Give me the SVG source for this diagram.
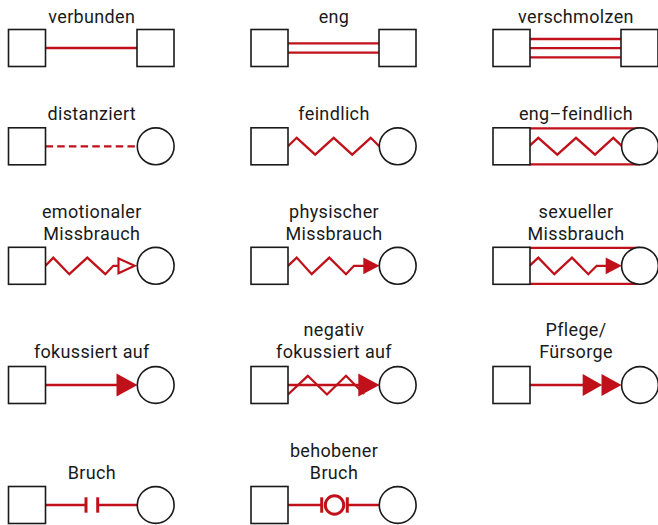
<svg xmlns="http://www.w3.org/2000/svg" width="658" height="525" viewBox="0 0 658 525">
<style>
.nd{fill:#fff;stroke:#1a1a1a;stroke-width:1.6}
.ln{fill:none;stroke:#c0111a;stroke-width:2.3}
.zz{fill:none;stroke:#c0111a;stroke-width:2.3;stroke-linejoin:miter}
.ah{fill:#c0111a;stroke:none}
.ao{fill:#fff;stroke:#c0111a;stroke-width:2.2}
.br{stroke:#c0111a;stroke-width:3}
.lb{font-family:Roboto,"Liberation Sans",sans-serif;font-size:18px;letter-spacing:0.35px;fill:#1a1a1a;text-anchor:middle}
</style>
<rect width="658" height="525" fill="#fff"/>

<g id="connectors">
  <!-- verbunden -->
  <line class="ln" x1="45.5" y1="48" x2="137" y2="48"/>
  <!-- eng -->
  <line class="ln" x1="288" y1="43.3" x2="379" y2="43.3"/>
  <line class="ln" x1="288" y1="52.7" x2="379" y2="52.7"/>
  <!-- verschmolzen -->
  <line class="ln" x1="530" y1="39" x2="621" y2="39"/>
  <line class="ln" x1="530" y1="48.2" x2="621" y2="48.2"/>
  <line class="ln" x1="530" y1="57.4" x2="621" y2="57.4"/>
  <!-- distanziert -->
  <line class="ln" x1="45.5" y1="146.3" x2="137" y2="146.3" stroke-dasharray="7.5 4.2"/>
  <!-- feindlich -->
  <polyline class="zz" points="288,146.3 296.7,137.8 315.2,154.6 333.7,137.8 352.2,154.6 370.7,137.8 379.3,146.3"/>
  <!-- eng-feindlich -->
  <line class="ln" x1="529" y1="128.4" x2="640" y2="128.4"/>
  <line class="ln" x1="529" y1="164.3" x2="640" y2="164.3"/>
  <polyline class="zz" points="529.5,145.8 538.3,137.8 557.3,154.6 576,137.8 595,154.6 613.3,137.8 621.7,145.8"/>
  <!-- emotionaler Missbrauch -->
  <polyline class="zz" points="45.5,265.8 53.3,257.6 69.3,274.2 87.3,257.6 105.3,274.2 113.3,265.8 118.5,265.8"/>
  <polygon class="ao" points="118.5,258.4 134.6,265.8 118.5,273.2"/>
  <!-- physischer Missbrauch -->
  <polyline class="zz" points="288,265.8 296.7,257.6 311.7,274.2 329.3,257.6 346,274.2 354,265.8 364,265.8"/>
  <polygon class="ah" points="363.3,257.5 379.5,265.8 363.3,274.2"/>
  <!-- sexueller Missbrauch -->
  <line class="ln" x1="529" y1="247.8" x2="640" y2="247.8"/>
  <line class="ln" x1="529" y1="283.8" x2="640" y2="283.8"/>
  <polyline class="zz" points="529.5,265.8 538.3,257.6 554.3,274.2 572,257.6 588.3,274.2 596.7,265.8 606.5,265.8"/>
  <polygon class="ah" points="605.7,257.5 621.8,265.8 605.7,274.2"/>
  <!-- fokussiert auf -->
  <line class="ln" x1="45.5" y1="385" x2="118" y2="385"/>
  <polygon class="ah" points="116.5,373.6 137.5,385 116.5,396.4"/>
  <!-- negativ fokussiert auf -->
  <line class="ln" x1="288" y1="385" x2="360" y2="385"/>
  <polyline class="zz" points="288,394.5 307.8,375.8 327,394.5 346,375.8 364,394"/>
  <polygon class="ah" points="358.3,373.4 379.5,385 358.3,396.6"/>
  <!-- Pflege/Fürsorge -->
  <line class="ln" x1="529.5" y1="385" x2="584" y2="385"/>
  <polygon class="ah" points="582.7,374 602.2,385 582.7,396"/>
  <polygon class="ah" points="601.5,374 621.5,385 601.5,396"/>
  <!-- Bruch -->
  <line class="ln" x1="45.5" y1="505" x2="86" y2="505"/>
  <line class="br" x1="86" y1="497.3" x2="86" y2="512.7"/>
  <line class="br" x1="97.7" y1="497.3" x2="97.7" y2="512.7"/>
  <line class="ln" x1="97.7" y1="505" x2="137.3" y2="505"/>
  <!-- behobener Bruch -->
  <line class="ln" x1="288" y1="505" x2="321.7" y2="505"/>
  <line class="br" x1="321.7" y1="497.3" x2="321.7" y2="512.7"/>
  <circle cx="334.5" cy="505" r="9.2" fill="#fff" stroke="#c0111a" stroke-width="3"/>
  <line class="br" x1="347.3" y1="497.3" x2="347.3" y2="512.7"/>
  <line class="ln" x1="347.3" y1="505" x2="379.3" y2="505"/>
</g>

<g id="n-verbunden-a"><rect class="nd" x="8.5" y="29.5" width="37" height="37"/></g>
<g id="n-verbunden-b"><rect class="nd" x="137" y="29.5" width="37" height="37"/></g>
<g id="n-eng-a"><rect class="nd" x="251" y="29.5" width="37" height="37"/></g>
<g id="n-eng-b"><rect class="nd" x="379" y="29.5" width="37" height="37"/></g>
<g id="n-verschmolzen-a"><rect class="nd" x="493" y="29.5" width="37" height="37"/></g>
<g id="n-verschmolzen-b"><rect class="nd" x="621" y="29.5" width="37" height="37"/></g>

<g id="n-distanziert-a"><rect class="nd" x="8.5" y="127.8" width="37" height="37"/></g>
<g id="n-distanziert-b"><circle class="nd" cx="155.7" cy="146.3" r="18.4"/></g>
<g id="n-feindlich-a"><rect class="nd" x="251" y="127.8" width="37" height="37"/></g>
<g id="n-feindlich-b"><circle class="nd" cx="397.7" cy="146.3" r="18.4"/></g>
<g id="n-engfeindlich-a"><rect class="nd" x="493" y="127.8" width="37" height="37"/></g>
<g id="n-engfeindlich-b"><circle class="nd" cx="640" cy="146.3" r="18.4"/></g>

<g id="n-emotional-a"><rect class="nd" x="8.5" y="247.3" width="37" height="37"/></g>
<g id="n-emotional-b"><circle class="nd" cx="155.7" cy="265.8" r="18.4"/></g>
<g id="n-physisch-a"><rect class="nd" x="251" y="247.3" width="37" height="37"/></g>
<g id="n-physisch-b"><circle class="nd" cx="397.7" cy="265.8" r="18.4"/></g>
<g id="n-sexuell-a"><rect class="nd" x="493" y="247.3" width="37" height="37"/></g>
<g id="n-sexuell-b"><circle class="nd" cx="640" cy="265.8" r="18.4"/></g>

<g id="n-fokus-a"><rect class="nd" x="8.5" y="366.5" width="37" height="37"/></g>
<g id="n-fokus-b"><circle class="nd" cx="155.7" cy="385" r="18.4"/></g>
<g id="n-negfokus-a"><rect class="nd" x="251" y="366.5" width="37" height="37"/></g>
<g id="n-negfokus-b"><circle class="nd" cx="397.7" cy="385" r="18.4"/></g>
<g id="n-pflege-a"><rect class="nd" x="493" y="366.5" width="37" height="37"/></g>
<g id="n-pflege-b"><circle class="nd" cx="640" cy="385" r="18.4"/></g>

<g id="n-bruch-a"><rect class="nd" x="8.5" y="486.5" width="37" height="37"/></g>
<g id="n-bruch-b"><circle class="nd" cx="155.7" cy="505" r="18.4"/></g>
<g id="n-behoben-a"><rect class="nd" x="251" y="486.5" width="37" height="37"/></g>
<g id="n-behoben-b"><circle class="nd" cx="397.7" cy="505" r="18.4"/></g>

<g id="labels">
  <text class="lb" x="91.8" y="22.5">verbunden</text>
  <text class="lb" x="334" y="22.5">eng</text>
  <text class="lb" x="576" y="22.5">verschmolzen</text>
  <text class="lb" x="91.8" y="120">distanziert</text>
  <text class="lb" x="334" y="120">feindlich</text>
  <text class="lb" x="576" y="120">eng–feindlich</text>
  <text class="lb" x="91.8" y="217.5">emotionaler</text>
  <text class="lb" x="91.8" y="239.5">Missbrauch</text>
  <text class="lb" x="334" y="217.5">physischer</text>
  <text class="lb" x="334" y="239.5">Missbrauch</text>
  <text class="lb" x="576" y="217.5">sexueller</text>
  <text class="lb" x="576" y="239.5">Missbrauch</text>
  <text class="lb" x="91.8" y="357.5">fokussiert auf</text>
  <text class="lb" x="334" y="335.5">negativ</text>
  <text class="lb" x="334" y="357.5">fokussiert auf</text>
  <text class="lb" x="576" y="335.5">Pflege/</text>
  <text class="lb" x="576" y="357.5">Fürsorge</text>
  <text class="lb" x="91.8" y="479">Bruch</text>
  <text class="lb" x="334" y="457">behobener</text>
  <text class="lb" x="334" y="479">Bruch</text>
</g>
</svg>
